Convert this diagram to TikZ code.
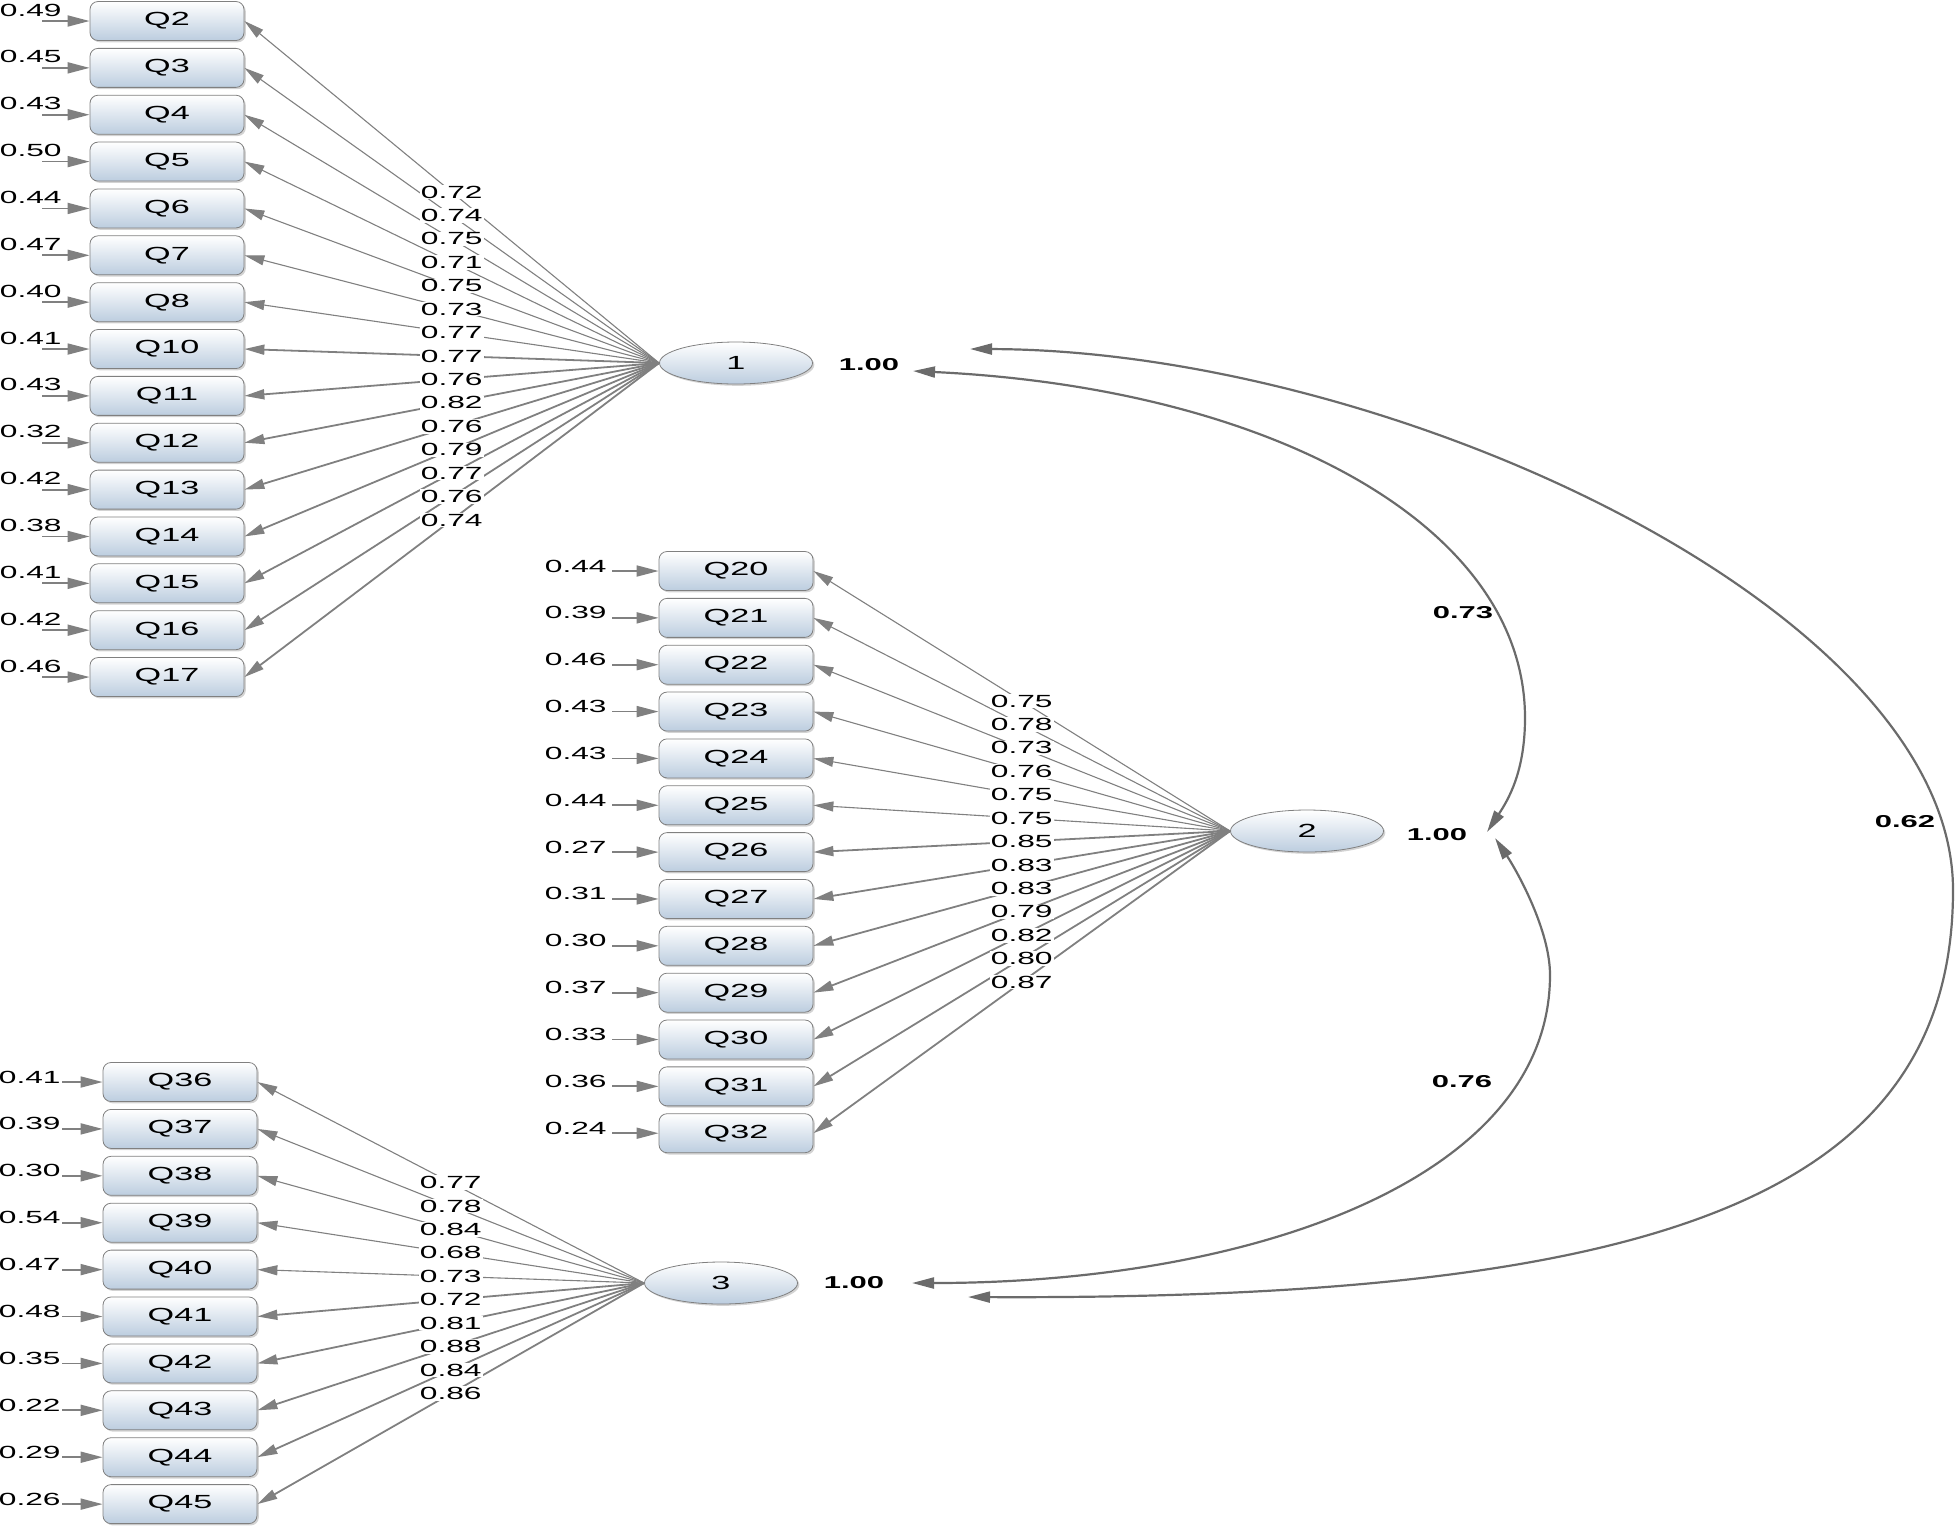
\documentclass[tikz,border=0pt]{standalone}
\usepackage{fontspec}
\setmainfont[FakeStretch=1.8]{Liberation Sans}
\usetikzlibrary{arrows.meta,shapes.geometric,shadows,calc}
\definecolor{qblue}{RGB}{188,205,223}
\definecolor{lgray}{RGB}{128,128,128}
\pgfdeclarelayer{front}
\pgfsetlayers{main,front}

\begin{document}
\begin{tikzpicture}[x=0.5pt,y=-0.5pt]
	\tikzstyle{qbox}=[draw=black!50, rounded corners=4pt, top color=white, bottom color=qblue, minimum width=77pt, minimum height=19.5pt, inner sep=0pt, font=\fontsize{9.5}{10}\selectfont, drop shadow={shadow xshift=.9pt,shadow yshift=-.9pt,opacity=.35}];
	\tikzstyle{lat}=[ellipse, draw=black!50, top color=white, bottom color=qblue, minimum width=76.5pt, minimum height=21pt, inner sep=0pt, font=\fontsize{9.5}{10}\selectfont, drop shadow={shadow xshift=.9pt,shadow yshift=-.9pt,opacity=.35}];
	\tikzstyle{ld}=[draw=lgray, -{Triangle[length=10pt,width=5pt]}];
	\tikzstyle{err}=[draw=lgray, line width=.9pt, -{Triangle[length=11pt,width=5.5pt]}];
	\tikzstyle{cov}=[draw=black!58, line width=1.1pt, {Triangle[length=11pt,width=5.5pt]}-{Triangle[length=11pt,width=5.5pt]}];
	\tikzstyle{num}=[font=\fontsize{8.8}{9}\selectfont, inner sep=.5pt];
	\tikzstyle{lab}=[num, fill=white];
	\tikzstyle{vlab}=[font=\bfseries\fontsize{8.6}{9}\selectfont, inner sep=.5pt];
	\useasboundingbox (0,0) rectangle (1959,1528);

	% factors
	\node[lat] (f1) at (736,363) {1};
	\node[lat] (f2) at (1307,831) {2};
	\node[lat] (f3) at (721,1283) {3};

	% factor 1
	\foreach \q/\e/\l [count=\i from 0] in {2/0.49/0.72, 3/0.45/0.74, 4/0.43/0.75, 5/0.50/0.71, 6/0.44/0.75, 7/0.47/0.73, 8/0.40/0.77, 10/0.41/0.77, 11/0.43/0.76, 12/0.32/0.82, 13/0.42/0.76, 14/0.38/0.79, 15/0.41/0.77, 16/0.42/0.76, 17/0.46/0.74} {
		\node[qbox] (q\q) at (167,21+46.86*\i) {Q\q};
		\node[num, anchor=base east] (e\q) at (63,16+46.86*\i) {\e};
		\coordinate (s\q) at (42,21+46.86*\i);
		\draw[err] (s\q) -- (q\q.west);
		\pgfmathsetmacro\lw{\i<7 ? 0.55 : 0.9}
		\draw[ld, line width=\lw pt] (f1.west) -- (q\q.east);
		\begin{pgfonlayer}{front}
			\node[lab] (l\q) at ($(f1.west)!.5!(q\q.east)$) {\l};
		\end{pgfonlayer}
	}

	% factor 2
	\foreach \q/\e/\l [count=\i from 0] in {20/0.44/0.75, 21/0.39/0.78, 22/0.46/0.73, 23/0.43/0.76, 24/0.43/0.75, 25/0.44/0.75, 26/0.27/0.85, 27/0.31/0.83, 28/0.30/0.83, 29/0.37/0.79, 30/0.33/0.82, 31/0.36/0.80, 32/0.24/0.87} {
		\node[qbox] (q\q) at (736,571+46.85*\i) {Q\q};
		\node[num, anchor=base east] (e\q) at (608,572+46.85*\i) {\e};
		\coordinate (s\q) at (612,571+46.85*\i);
		\draw[err] (s\q) -- (q\q.west);
		\pgfmathsetmacro\lw{\i<6 ? 0.55 : 0.9}
		\draw[ld, line width=\lw pt] (f2.west) -- (q\q.east);
		\begin{pgfonlayer}{front}
			\node[lab] (l\q) at ($(f2.west)!.5!(q\q.east)$) {\l};
		\end{pgfonlayer}
	}

	% factor 3
	\foreach \q/\e/\l [count=\i from 0] in {36/0.41/0.77, 37/0.39/0.78, 38/0.30/0.84, 39/0.54/0.68, 40/0.47/0.73, 41/0.48/0.72, 42/0.35/0.81, 43/0.22/0.88, 44/0.29/0.84, 45/0.26/0.86} {
		\node[qbox] (q\q) at (180,1082+46.9*\i) {Q\q};
		\node[num, anchor=base east] (e\q) at (62,1083+46.9*\i) {\e};
		\coordinate (s\q) at (62,1082+46.9*\i);
		\draw[err] (s\q) -- (q\q.west);
		\pgfmathsetmacro\lw{\i<5 ? 0.55 : 0.9}
		\draw[ld, line width=\lw pt] (f3.west) -- (q\q.east);
		\begin{pgfonlayer}{front}
			\node[lab] (l\q) at ($(f3.west)!.5!(q\q.east)$) {\l};
		\end{pgfonlayer}
	}

	% variances
	\node[vlab] (v1) at (869,365) {1.00};
	\node[vlab] (v2) at (1437,835) {1.00};
	\node[vlab] (v3) at (854,1283) {1.00};

	% covariances
	\coordinate (c1a) at (913,371);
	\coordinate (c1b) at (970,349);
	\coordinate (c2a) at (1487,832);
	\coordinate (c2b) at (1495,838);
	\coordinate (c3a) at (912,1283);
	\coordinate (c3b) at (968,1297);
	\draw[cov] (c1a) .. controls (1270,388) and (1525,525) .. (1525,718) .. controls (1525,772) and (1508,800) .. (c2a);
	\draw[cov] (c2b) .. controls (1517,871) and (1550,930) .. (1550,975) .. controls (1550,1180) and (1250,1283) .. (c3a);
	\draw[cov] (c1b) .. controls (1390,350) and (1953,610) .. (1953,890) .. controls (1953,1200) and (1650,1300) .. (c3b);
	\node[vlab] (r12) at (1463,613) {0.73};
	\node[vlab] (r23) at (1462,1082) {0.76};
	\node[vlab] (r13) at (1905,822) {0.62};
\end{tikzpicture}
\end{document}
